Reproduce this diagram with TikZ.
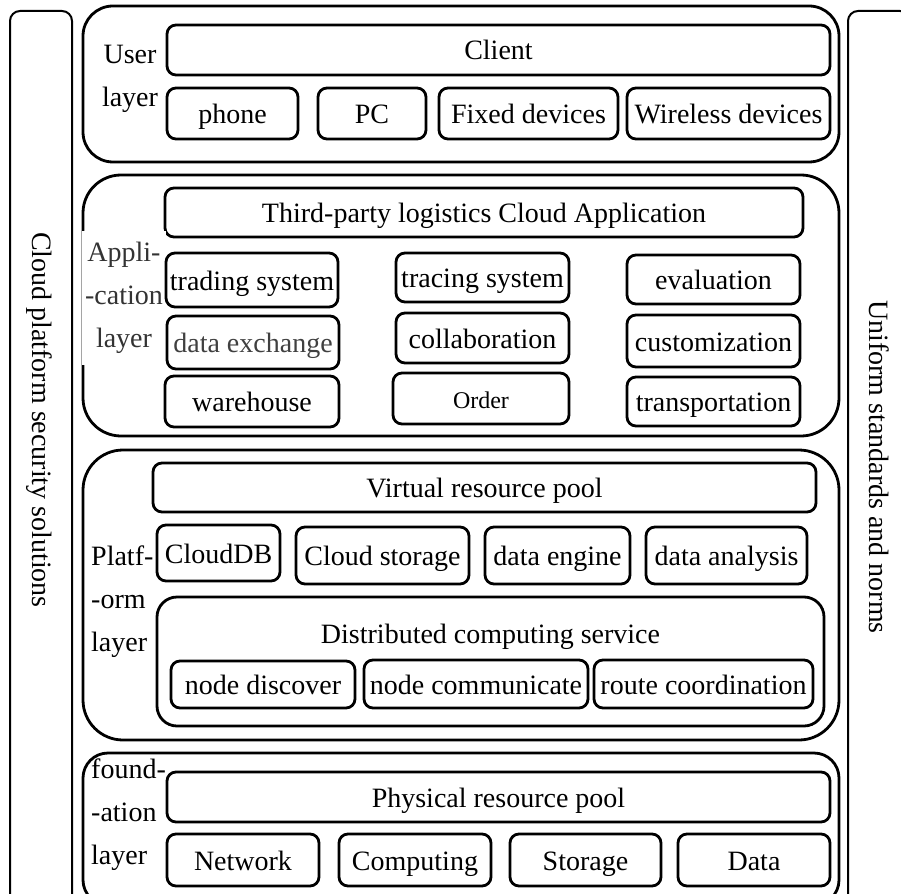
\documentclass[tikz,border=0pt]{standalone}
\usepackage{fontspec}
\setmainfont{Liberation Serif}
\usepackage{tikz}
\tikzstyle{box} = [draw, line width=2.8pt, rounded corners=9pt, inner sep=0pt, minimum height=50pt, text height=25pt, text depth=5pt]
\tikzstyle{layer} = [draw, line width=2.8pt, inner sep=0pt, minimum width=756pt]
\tikzstyle{bar} = [draw, line width=2pt, rounded corners=10pt, minimum width=62pt, minimum height=894pt]
\tikzstyle{lbl} = [align=center, inner sep=0pt]

\begin{document}
\begin{tikzpicture}[x=1pt, y=-1pt, every node/.style={font=\fontsize{28}{43}\selectfont}]
		\useasboundingbox (0,0) rectangle (901,893);
		\clip (0,0) rectangle (901,893);

		\node (lbar) [bar] at (41,458) {};
		\node (ltext) [rotate=-90] at (39,420) {Cloud platform security solutions};
		\node (rbar) [bar] at (879,458) {};
		\node (rtext) [rotate=-90] at (879,467) {Uniform standards and norms};

		\node (1layer) [layer, minimum height=156pt, rounded corners=30pt] at (461,84) {};
		\node (1name) [lbl] at (130,79) {User\\layer};
		\node (1client) [box, minimum width=663pt] at (498.5,50) {Client};
		\node (1phone) [box, minimum width=131pt, minimum height=51pt] at (232.5,113.5) {phone};
		\node (1pc) [box, minimum width=108pt, minimum height=51pt] at (372,113.5) {PC};
		\node (1fixed) [box, minimum width=179pt, minimum height=51pt] at (528.5,113.5) {Fixed devices};
		\node (1wireless) [box, minimum width=203pt, minimum height=51pt] at (728.5,113.5) {Wireless devices};

		\node (2layer) [layer, minimum height=261pt, rounded corners=38pt] at (461,305.5) {};
		\node (2cloud) [box, minimum width=638pt, minimum height=49pt] at (484,212.5) {Third-party logistics Cloud Application};
		\node (2name) [lbl, fill=white, text=black!80, minimum width=84pt, minimum height=134pt] at (124,298) {Appli-\\-cation\\layer};
		\node (2trading) [box, minimum width=172pt, minimum height=54pt] at (252,280) {trading system};
		\node (2tracing) [box, minimum width=173pt, minimum height=49pt] at (482.5,277.5) {tracing system};
		\node (2eval) [box, minimum width=173pt, minimum height=49pt] at (713.5,279.5) {evaluation};
		\node (2exchange) [box, minimum width=172pt, minimum height=53pt, text=black!75] at (253,342.5) {data exchange};
		\node (2collab) [box, minimum width=173pt, minimum height=50pt] at (482.5,338) {collaboration};
		\node (2custom) [box, minimum width=173pt, minimum height=52pt] at (713.5,341) {customization};
		\node (2ware) [box, minimum width=174pt, minimum height=51pt] at (252,401.5) {warehouse};
		\node (2order) [box, minimum width=176pt, minimum height=51pt, font=\fontsize{24}{30}\selectfont] at (481,398.5) {Order};
		\node (2trans) [box, minimum width=173pt, minimum height=49pt] at (713.5,401.5) {transportation};

		\node (3layer) [layer, minimum height=290pt, rounded corners=40pt] at (461,595) {};
		\node (3name) [lbl, align=left, anchor=west] at (91,602) {Platf-\\-orm\\layer};
		\node (3virtual) [box, minimum width=663pt, minimum height=49pt] at (484.5,487.5) {Virtual resource pool};
		\node (3clouddb) [box, minimum width=123pt, minimum height=56pt] at (218.5,553) {CloudDB};
		\node (3storage) [box, minimum width=173pt, minimum height=57pt] at (382.5,555.5) {Cloud storage};
		\node (3engine) [box, minimum width=145pt, minimum height=57pt] at (557.5,555.5) {data engine};
		\node (3analysis) [box, minimum width=161pt, minimum height=57pt] at (726.5,555.5) {data analysis};
		\node (3dist) [box, minimum width=667pt, minimum height=129pt, rounded corners=20pt] at (490.5,661.5) {};
		\node (3disttitle) at (490.5,637) {Distributed computing service};
		\node (3discover) [box, minimum width=184pt, minimum height=47pt] at (263,684.5) {node discover};
		\node (3comm) [box, minimum width=224pt, minimum height=48pt] at (476,684) {node communicate};
		\node (3route) [box, minimum width=219pt, minimum height=48pt] at (703.5,684) {route coordination};

		\node (4layer) [layer, minimum height=152pt, rounded corners=25pt] at (461,829) {};
		\node (4name) [lbl, align=left, anchor=west] at (91,815) {found-\\-ation\\layer};
		\node (4physical) [box, minimum width=663pt] at (498.5,797) {Physical resource pool};
		\node (4network) [box, minimum width=152pt, minimum height=52pt] at (243,860) {Network};
		\node (4computing) [box, minimum width=152pt, minimum height=52pt] at (415,860) {Computing};
		\node (4storage) [box, minimum width=151pt, minimum height=52pt] at (585.5,860) {Storage};
		\node (4data) [box, minimum width=152pt, minimum height=52pt] at (754,860) {Data};
	\end{tikzpicture}
\end{document}
